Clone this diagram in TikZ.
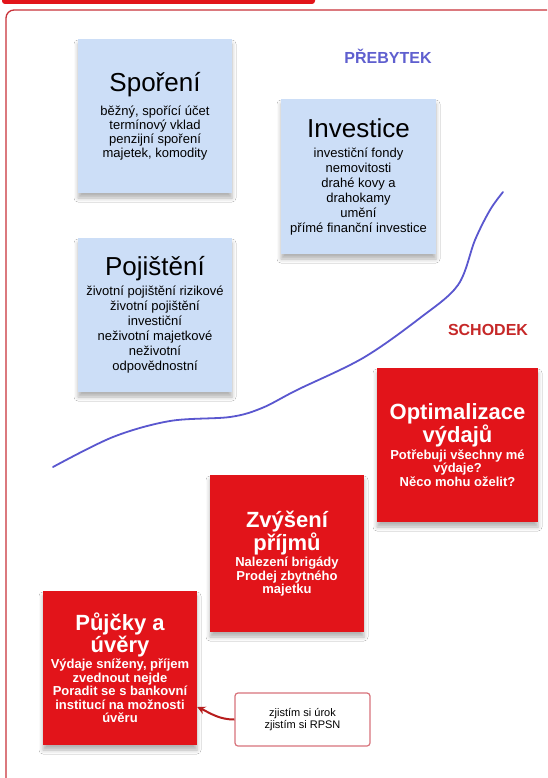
\documentclass[tikz,border=0pt]{standalone}
\usepackage{fontspec}
\setmainfont{Liberation Sans}
\usetikzlibrary{shadows.blur,arrows.meta}
\definecolor{boxblue}{HTML}{CCDEF7}
\definecolor{boxred}{HTML}{E2141A}
\definecolor{surplus}{HTML}{5F5FCF}
\definecolor{curveblue}{HTML}{5A57CF}
\definecolor{deficit}{HTML}{C62828}
\definecolor{framered}{HTML}{C8323A}
\definecolor{notered}{HTML}{D8737B}
\definecolor{arrowred}{HTML}{B71C1C}
\newcommand\btitle{\fontsize{26}{28}\selectfont}
\newcommand\bbody{\fontsize{13}{15}\selectfont}
\newcommand\rtitle{\fontsize{22}{22}\selectfont\bfseries}
\newcommand\rbody{\fontsize{13}{13.5}\selectfont\bfseries}
\tikzset{
  card/.style={minimum width=154pt, minimum height=154pt, inner sep=0pt, align=center,
    blur shadow={shadow xshift=0pt, shadow yshift=-5pt, shadow blur radius=4pt, shadow opacity=30}},
  bluecard/.style={card, fill=boxblue, text=black, font=\bbody},
  redcard/.style={card, fill=boxred, text=white, font=\rbody},
  notebox/.style={draw=notered, line width=1.2pt, fill=white, rounded corners=3pt,
    minimum width=135pt, minimum height=53pt, inner sep=0pt, align=center,
    font=\fontsize{11}{12}\selectfont},
  sidetag/.style={font=\fontsize{16}{16}\selectfont\bfseries, inner sep=0pt}
}
\begin{document}
\begin{tikzpicture}[x=1pt,y=-1pt]
\useasboundingbox (0,0) rectangle (547,778);
\clip (0,0) rectangle (547,778);
\fill[white] (0,0) rectangle (547,778);
\fill[boxred, rounded corners=3pt] (2,-10) rectangle (315,4);
\draw[framered, line width=1.3pt, rounded corners=8pt] (6,10) rectangle (580,820);

\node[sidetag, text=surplus] (preb) at (388,56) {PŘEBYTEK};
\node[sidetag, text=deficit] (schod) at (488,330) {SCHODEK};

\node[bluecard, minimum height=154pt, font=\fontsize{13}{14}\selectfont] (spor) at (155,116)
  {\btitle Spoření\\[8pt] běžný, spořící účet\\ termínový vklad\\ penzijní spoření\\ majetek, komodity};
\node[bluecard, minimum width=155pt, minimum height=155pt] (inv) at (358.5,176.5)
  {\btitle Investice\\[5pt] investiční fondy\\ nemovitosti\\ drahé kovy a\\ drahokamy\\ umění\\ přímé finanční investice};
\node[bluecard] (poj) at (155,315)
  {\btitle Pojištění\\[5pt] životní pojištění rizikové\\ životní pojištění\\ investiční\\ neživotní majetkové\\ neživotní\\ odpovědnostní};

\draw[curveblue, line width=1.8pt, line cap=round] plot[smooth, tension=0.55] coordinates
  {(53,467) (113,437) (170,421) (230,417) (262,408) (297,390) (363,358) (420,318) (458,285) (475,240) (490,210) (503,192)};

\node[redcard, minimum width=161pt] (opt) at (457.5,445)
  {\rtitle Optimalizace\\ \rtitle výdajů\\[1pt] Potřebuji všechny mé\\ výdaje?\\ Něco mohu oželit?};
\node[redcard, minimum height=157pt] (zvy) at (287,553.5)
  {\rtitle Zvýšení\\ \rtitle příjmů\\[1pt] Nalezení brigády\\ Prodej zbytného\\ majetku};
\node[redcard] (puj) at (120,668)
  {\rtitle Půjčky a\\ \rtitle úvěry\\[1pt] Výdaje sníženy, příjem\\ zvednout nejde\\ Poradit se s bankovní\\ institucí na možnosti\\ úvěru};

\node[notebox] (note) at (302.5,719.5) {zjistím si úrok\\ zjistím si RPSN};
\draw[arrowred, line width=2pt, -{Stealth[length=8pt,width=8pt]}]
  (note.west) to[out=180, in=-25] ([yshift=-39pt]puj.east);
\end{tikzpicture}
\end{document}
